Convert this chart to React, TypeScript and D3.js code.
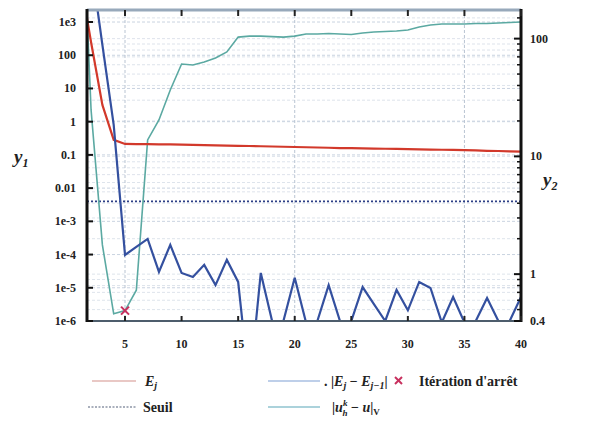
import React from 'react';
import * as d3 from 'd3';

// iteration numbers (x)
const iterations = [
  1, 2, 3, 4, 5, 6, 7, 8, 9, 10, 11, 12, 13, 14, 15, 16, 17, 18, 19, 20,
  21, 22, 23, 24, 25, 26, 27, 28, 29, 30, 31, 32, 33, 34, 35, 36, 37, 38, 39, 40,
];

// E_j (left axis)
const energy = [
  24500, 245, 3.2, 0.283, 0.214, 0.212, 0.21, 0.208, 0.206, 0.203,
  0.2, 0.197, 0.194, 0.191, 0.188, 0.185, 0.182, 0.179, 0.176, 0.173,
  0.17, 0.167, 0.164, 0.161, 0.159, 0.157, 0.155, 0.153, 0.151, 0.149,
  0.147, 0.145, 0.143, 0.141, 0.139, 0.136, 0.133, 0.131, 0.128, 0.125,
];

// |E_j - E_{j-1}| (left axis)
const energyDiff = [
  5e5, 6e4, 205, 0.8, 9.7e-5, 1.7e-4, 2.95e-4, 3e-5, 1.95e-4, 2.8e-5,
  2.1e-5, 4.9e-5, 1.2e-5, 6.9e-5, 1.5e-5, 1e-8, 2.8e-5, 1e-6, 1e-6, 2e-5,
  9e-7, 1e-6, 1.2e-5, 1e-6, 1e-6, 1.05e-5, 3.2e-6, 1e-6, 8.6e-6, 2.1e-6,
  1.5e-5, 9.9e-6, 9e-7, 5.3e-6, 9e-7, 1e-6, 4.9e-6, 1e-6, 1e-6, 5.3e-6,
];

// |u_h^k - u|_V (right axis)
const uError = [
  4500, 24.8, 1.77, 0.46, 0.49, 0.73, 13.8, 20.4, 36.6, 60.9,
  59.7, 63.3, 68.5, 77, 103, 105, 105, 104, 103, 105,
  109.5, 109.5, 110.6, 109.5, 108.4, 111.7, 113.8, 114.9, 116, 118.3,
  125.5, 130.5, 133, 133, 133, 134.4, 134.4, 135.7, 137, 138.4,
];

const seuil = 0.004;
const stopIteration = 5;

const xTicks = [5, 10, 15, 20, 25, 30, 35, 40];
const xGrid = [5, 20, 35];
const y1Ticks = [1e3, 100, 10, 1, 0.1, 0.01, 1e-3, 1e-4, 1e-5, 1e-6];
const y1Labels = ['1e3', '100', '10', '1', '0.1', '0.01', '1e-3', '1e-4', '1e-5', '1e-6'];
const y2Ticks = [100, 10, 1, 0.4];
const y2Labels = ['100', '10', '1', '0.4'];
const y2Minor = [0.5, 0.6, 0.7, 0.8, 0.9, 2, 3, 4, 5, 6, 7, 8, 9, 20, 30, 40, 50, 60, 70, 80, 90, 150];

const W = 592;
const H = 426;
const L = 87, R = 521, T = 10, B = 321;

const serif = "'Liberation Serif', 'DejaVu Serif', serif";

export default function App() {
  const x = d3.scaleLinear().domain([1.64, 40]).range([L, R]);
  const y1 = d3.scaleLog().domain([1e-6, 2300]).range([B, T]);
  const y2 = d3.scaleLog().domain([0.4, 175]).range([B, T]);

  const lineLeft = d3.line<number>()
    .x((d, i) => x(iterations[i]))
    .y(d => y1(d));
  const lineRight = d3.line<number>()
    .x((d, i) => x(iterations[i]))
    .y(d => y2(d));

  const sx = x(stopIteration);
  const sy = y2(uError[iterations.indexOf(stopIteration)]);

  return (
    <svg width={W} height={H}
      style={{ position: 'absolute', left: 0, top: 0, background: '#fff', fontFamily: serif, fontWeight: 'bold' }}>
      <defs>
        <clipPath id="plot">
          <rect x={L} y={T} width={R - L} height={B - T} />
        </clipPath>
      </defs>

      {/* grid */}
      <g stroke="#c9d3e0" strokeWidth={1} strokeDasharray="3,2">
        {y1Ticks.map(t => (
          <line key={'g1' + t} x1={L} x2={R} y1={y1(t)} y2={y1(t)} />
        ))}
        {y2Ticks.concat(y2Minor).filter(t => t > 0.4).map(t => (
          <line key={'g2' + t} x1={L} x2={R} y1={y2(t)} y2={y2(t)} opacity={0.6} />
        ))}
        {xGrid.map(t => (
          <line key={'gx' + t} x1={x(t)} x2={x(t)} y1={T} y2={B} stroke="#b9c4d2" />
        ))}
      </g>

      {/* series */}
      <g clipPath="url(#plot)" fill="none">
        <line x1={L} x2={R} y1={y1(seuil)} y2={y1(seuil)} stroke="#2d3f86" strokeWidth={1.6} strokeDasharray="2,2" />
        <path d={lineRight(uError) || ''} stroke="#5ba9a2" strokeWidth={1.6} />
        <path d={lineLeft(energy) || ''} stroke="#d2392b" strokeWidth={2.2} />
        <path d={lineLeft(energyDiff) || ''} stroke="#34509f" strokeWidth={2.2} />
      </g>
      <g stroke="#c8305e" strokeWidth={2}>
        <line x1={sx - 4} x2={sx + 4} y1={sy - 4} y2={sy + 4} />
        <line x1={sx - 4} x2={sx + 4} y1={sy + 4} y2={sy - 4} />
      </g>

      {/* frame */}
      <line x1={L} x2={R} y1={T} y2={T} stroke="#98a9bb" strokeWidth={3} />
      <line x1={L} x2={R} y1={B} y2={B} stroke="#4d5d6c" strokeWidth={2} />
      <line x1={L} x2={L} y1={T - 1} y2={B + 1} stroke="#111" strokeWidth={3} />
      <line x1={R} x2={R} y1={T - 1} y2={B + 1} stroke="#111" strokeWidth={3} />

      {/* x ticks */}
      <g stroke="#222" strokeWidth={2}>
        {xTicks.map(t => (
          <g key={'xt' + t}>
            <line x1={x(t)} x2={x(t)} y1={B} y2={B - 5} />
            <line x1={x(t)} x2={x(t)} y1={T} y2={T + 6} />
          </g>
        ))}
      </g>
      <g fontSize={12} textAnchor="middle" fill="#222">
        {xTicks.map(t => (
          <text key={'xl' + t} x={x(t)} y={348}>{t}</text>
        ))}
      </g>

      {/* left axis */}
      <g stroke="#111" strokeWidth={2}>
        {y1Ticks.map(t => (
          <line key={'y1t' + t} x1={L} x2={L + 6} y1={y1(t)} y2={y1(t)} />
        ))}
      </g>
      <g fontSize={12} textAnchor="end" fill="#222">
        {y1Ticks.map((t, i) => (
          <text key={'y1l' + t} x={76} y={y1(t) + 4}>{y1Labels[i]}</text>
        ))}
      </g>
      <text x={14} y={163} fontSize={19} fontStyle="italic" fill="#222">
        y<tspan fontSize={12} dy={4}>1</tspan>
      </text>

      {/* right axis */}
      <g stroke="#111" strokeWidth={2}>
        {y2Ticks.map(t => (
          <line key={'y2t' + t} x1={R} x2={R - 7} y1={y2(t)} y2={y2(t)} />
        ))}
        {y2Minor.map(t => (
          <line key={'y2m' + t} x1={R} x2={R - 4} y1={y2(t)} y2={y2(t)} strokeWidth={1.5} />
        ))}
      </g>
      <g fontSize={12} textAnchor="start" fill="#222">
        {y2Ticks.map((t, i) => (
          <text key={'y2l' + t} x={530} y={Math.min(y2(t) + 4, 332)}>{y2Labels[i]}</text>
        ))}
      </g>
      <text x={543} y={186} fontSize={19} fontStyle="italic" fill="#222">
        y<tspan fontSize={12} dy={4}>2</tspan>
      </text>

      {/* legend */}
      <g fontSize={14} fill="#222">
        <line x1={92} x2={136} y1={381} y2={381} stroke="#e2b6b2" strokeWidth={1.5} />
        <text x={145} y={386} fontStyle="italic">E<tspan fontSize={10} dy={3}>j</tspan></text>

        <line x1={268} x2={320} y1={381} y2={381} stroke="#a9bfe2" strokeWidth={1.5} />
        <text x={324} y={386}>
          {'. |'}<tspan fontStyle="italic">E</tspan><tspan fontSize={10} dy={3} fontStyle="italic">j</tspan>
          <tspan dy={-3}>{' − '}</tspan><tspan fontStyle="italic">E</tspan>
          <tspan fontSize={10} dy={3} fontStyle="italic">{'j−1'}</tspan><tspan dy={-3}>|</tspan>
        </text>

        <g stroke="#c8305e" strokeWidth={2}>
          <line x1={395} x2={402} y1={377} y2={384} />
          <line x1={395} x2={402} y1={384} y2={377} />
        </g>
        <text x={419} y={386}>Itération d'arrêt</text>

        <line x1={88} x2={136} y1={407} y2={407} stroke="#55607a" strokeWidth={1.2} strokeDasharray="2,1.5" />
        <text x={143} y={412}>Seuil</text>

        <line x1={268} x2={320} y1={407} y2={407} stroke="#8fc3cf" strokeWidth={1.5} />
        <text x={332} y={412}>
          {'|'}<tspan fontStyle="italic">u</tspan>
          <tspan fontSize={9} dy={-6} fontStyle="italic">k</tspan>
          <tspan fontSize={9} dx={-5} dy={10} fontStyle="italic">h</tspan>
          <tspan dy={-4}>{' − '}</tspan><tspan fontStyle="italic">u</tspan>
          <tspan>|</tspan><tspan fontSize={9} dy={3}>V</tspan>
        </text>
      </g>
    </svg>
  );
}
